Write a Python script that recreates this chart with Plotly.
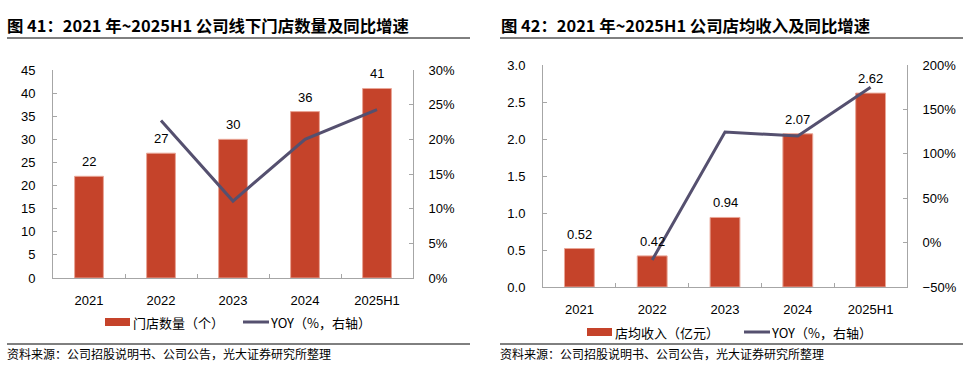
import plotly.graph_objects as go

# ---------------- data ----------------
categories = ["2021", "2022", "2023", "2024", "2025H1"]
store_counts = [22, 27, 30, 36, 41]
store_yoy = [None, 0.227, 0.111, 0.200, 0.243]
rev_per_store = [0.52, 0.42, 0.94, 2.07, 2.62]
rev_yoy = [None, -0.196, 1.245, 1.20, 1.75]

title_left = "图 41：2021 年~2025H1 公司线下门店数量及同比增速"
title_right = "图 42：2021 年~2025H1 公司店均收入及同比增速"
legend_bar_left = "门店数量（个）"
legend_bar_right = "店均收入（亿元）"
legend_line = "YOY（%，右轴）"
source_text = "资料来源：公司招股说明书、公司公告，光大证券研究所整理"

left_ticks = [0, 5, 10, 15, 20, 25, 30, 35, 40, 45]
left_ticks_r = [0, 0.05, 0.10, 0.15, 0.20, 0.25, 0.30]
right_ticks = [0, 0.5, 1.0, 1.5, 2.0, 2.5, 3.0]
right_ticks_r = [-0.5, 0, 0.5, 1.0, 1.5, 2.0]

# ---------------- style ----------------
W, H = 980, 374
BAR = "#C5432A"
BAR_EDGE = "#E9A596"
LINE = "#55506F"
AX = "#A6A6A6"
FONT = "Liberation Sans, Arial, Noto Sans CJK SC, sans-serif"
CJK = "Noto Sans CJK SC, Liberation Sans, sans-serif"

def px_x(p):
    return p / W

def px_y(p):
    return 1 - p / H

xpos = list(range(len(categories)))
bounds = [i + 0.5 for i in range(len(categories) - 1)]

fig = go.Figure()

# left chart
fig.add_trace(go.Bar(x=xpos, y=store_counts, xaxis="x", yaxis="y", width=0.4,
                     marker=dict(color=BAR, line=dict(color=BAR_EDGE, width=1)),
                     showlegend=False, hoverinfo="skip"))
fig.add_trace(go.Scatter(x=xpos, y=store_yoy, xaxis="x", yaxis="y2", mode="lines",
                         line=dict(color=LINE, width=3), showlegend=False, hoverinfo="skip"))
# right chart
fig.add_trace(go.Bar(x=xpos, y=rev_per_store, xaxis="x3", yaxis="y3", width=0.41,
                     marker=dict(color=BAR, line=dict(color=BAR_EDGE, width=1)),
                     showlegend=False, hoverinfo="skip"))
fig.add_trace(go.Scatter(x=xpos, y=rev_yoy, xaxis="x3", yaxis="y4", mode="lines",
                         line=dict(color=LINE, width=3), showlegend=False, hoverinfo="skip"))
# invisible traces to hold boundary tick axes
fig.add_trace(go.Scatter(x=[None], y=[None], xaxis="x2", yaxis="y", showlegend=False))
fig.add_trace(go.Scatter(x=[None], y=[None], xaxis="x4", yaxis="y3", showlegend=False))

Ld = [px_x(53), px_x(413)]
Ly = [px_y(278), px_y(70)]
Rd = [px_x(543), px_x(907)]
Ry = [px_y(287), px_y(65)]

tickfont = dict(family=FONT, size=13, color="#000000")
common_x = dict(range=[-0.5, 4.5], tickvals=xpos, ticktext=categories, ticks="",
                showline=True, linecolor=AX, linewidth=1, showgrid=False, zeroline=False,
                tickfont=tickfont, fixedrange=True, automargin=False)
bound_x = dict(range=[-0.5, 4.5], tickvals=bounds, ticks="inside", ticklen=4, tickcolor=AX,
               showticklabels=False, showline=False, showgrid=False, zeroline=False,
               automargin=False)
yax = dict(showline=True, linecolor=AX, linewidth=1, ticks="inside", ticklen=4, tickcolor=AX,
           showgrid=False, zeroline=False, tickfont=tickfont, automargin=False)

fig.update_layout(
    width=W, height=H, margin=dict(l=0, r=0, t=0, b=0, autoexpand=False),
    paper_bgcolor="white", plot_bgcolor="white", showlegend=False,
    xaxis=dict(domain=Ld, anchor="y", ticklabelstandoff=10, **common_x),
    xaxis2=dict(domain=Ld, anchor="y", overlaying="x", **bound_x),
    yaxis=dict(domain=Ly, anchor="x", range=[0, 45], tickvals=left_ticks,
               ticklabelstandoff=14, **yax),
    yaxis2=dict(domain=Ly, anchor="x", overlaying="y", side="right", range=[0, 0.30],
                tickvals=left_ticks_r, tickformat=".0%", ticklabelstandoff=12, **yax),
    xaxis3=dict(domain=Rd, anchor="y3", ticklabelstandoff=10, **common_x),
    xaxis4=dict(domain=Rd, anchor="y3", overlaying="x3", **bound_x),
    yaxis3=dict(domain=Ry, anchor="x3", range=[0, 3.0], tickvals=right_ticks,
                tickformat=".1f", ticklabelstandoff=14, **yax),
    yaxis4=dict(domain=Ry, anchor="x3", overlaying="y3", side="right", range=[-0.5, 2.0],
                tickvals=right_ticks_r, tickformat=".0%", ticklabelstandoff=12, **yax),
)

annotations = []
lblfont = dict(family=FONT, size=13, color="#000000")
for x, v in zip(xpos, store_counts):
    annotations.append(dict(x=x, y=v, xref="x", yref="y", text=str(v), showarrow=False,
                            yanchor="bottom", yshift=5, font=lblfont))
for x, v in zip(xpos, rev_per_store):
    annotations.append(dict(x=x, y=v, xref="x3", yref="y3", text=f"{v:.2f}", showarrow=False,
                            yanchor="bottom", yshift=5, font=lblfont))

titlefont = dict(family=CJK, size=16.4, color="#000000", weight="bold")
annotations.append(dict(x=px_x(5), y=px_y(25), xref="paper", yref="paper", text=title_left,
                        showarrow=False, xanchor="left", yanchor="middle", font=titlefont))
annotations.append(dict(x=px_x(499), y=px_y(25), xref="paper", yref="paper", text=title_right,
                        showarrow=False, xanchor="left", yanchor="middle", font=titlefont))

srcfont = dict(family=CJK, size=12, color="#000000")
annotations.append(dict(x=px_x(5), y=px_y(353), xref="paper", yref="paper", text=source_text,
                        showarrow=False, xanchor="left", yanchor="middle", font=srcfont))
annotations.append(dict(x=px_x(498), y=px_y(353), xref="paper", yref="paper", text=source_text,
                        showarrow=False, xanchor="left", yanchor="middle", font=srcfont))

legfont = dict(family=CJK, size=13, color="#000000")
shapes = []
def legend(y, bar_x, bar_label, line_x):
    shapes.append(dict(type="rect", xref="paper", yref="paper",
                       x0=px_x(bar_x), x1=px_x(bar_x + 25), y0=px_y(y + 4), y1=px_y(y - 4),
                       fillcolor=BAR, line=dict(width=0)))
    annotations.append(dict(x=px_x(bar_x + 26), y=px_y(y), xref="paper", yref="paper",
                            text=bar_label, showarrow=False, xanchor="left", yanchor="middle",
                            font=legfont))
    shapes.append(dict(type="line", xref="paper", yref="paper",
                       x0=px_x(line_x), x1=px_x(line_x + 26), y0=px_y(y), y1=px_y(y),
                       line=dict(color=LINE, width=3)))
    annotations.append(dict(x=px_x(line_x + 25), y=px_y(y), xref="paper", yref="paper",
                            text=legend_line, showarrow=False, xanchor="left", yanchor="middle",
                            font=legfont))

legend(322, 105, legend_bar_left, 243)
legend(332, 587, legend_bar_right, 744)

for x0, x1 in [(7, 470), (500, 963)]:
    for yy in (38, 344):
        shapes.append(dict(type="line", xref="paper", yref="paper",
                           x0=px_x(x0), x1=px_x(x1), y0=px_y(yy), y1=px_y(yy),
                           line=dict(color="#000000", width=1)))

fig.update_layout(annotations=annotations, shapes=shapes)
fig.write_html("out.html", config={"displayModeBar": False},
               post_script="document.body.style.margin='0';document.body.style.overflow='hidden';")
